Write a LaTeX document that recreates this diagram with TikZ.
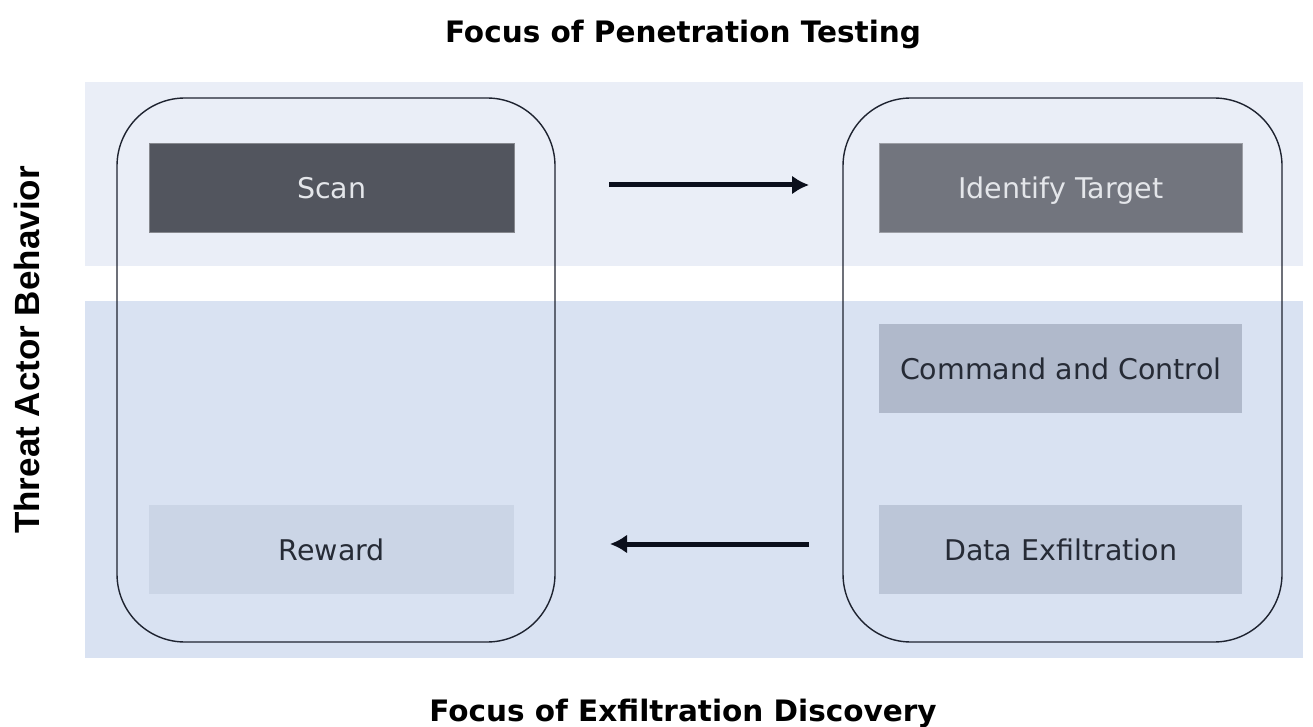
\documentclass[tikz,border=0pt]{standalone}
\usepackage{fontspec}
\setmainfont{DejaVu Sans}
\newfontfamily\arialfam{Liberation Sans}
\usetikzlibrary{arrows.meta}
\definecolor{bandtop}{HTML}{EAEEF7}
\definecolor{bandlow}{HTML}{D9E2F2}
\definecolor{scanfill}{HTML}{52555E}
\definecolor{identfill}{HTML}{72757E}
\definecolor{cmdfill}{HTML}{B0B9CB}
\definecolor{datafill}{HTML}{BCC6D8}
\definecolor{rewardfill}{HTML}{CBD5E6}
\definecolor{darktext}{HTML}{262B36}
\definecolor{lighttext}{HTML}{E4E6EA}
\definecolor{outline}{HTML}{1E2330}
\definecolor{arrowcol}{HTML}{0B0F1C}
\tikzset{
  stepbox/.style={rectangle, minimum width=365pt, minimum height=89pt, inner sep=0pt,
    text height=20.8pt, text depth=0pt,
    font=\fontsize{28.5}{34}\selectfont},
  groupbox/.style={draw=outline, line width=1.4pt, rounded corners=68pt},
  flowarrow/.style={line width=5pt, draw=arrowcol, -{Latex[length=17pt,width=19pt]}},
  titletext/.style={font=\fontsize{29.5}{34}\selectfont\bfseries},
}
\begin{document}
\begin{tikzpicture}[x=1pt,y=-1pt]
\useasboundingbox (0,0) rectangle (1313,727);
% bands
\fill[bandtop] (85,82) rectangle (1303,266);
\fill[bandlow] (85,301) rectangle (1303,658);
% group boxes
\draw[groupbox] (117,98) rectangle (555,642);
\draw[groupbox] (843,98) rectangle (1282,642);
% step boxes
\node[stepbox, fill=scanfill, draw=scanfill!70!white, line width=0.6pt, text=lighttext, anchor=north west] (scan) at (149,143) {Scan};
\node[stepbox, fill=identfill, draw=identfill!70!white, line width=0.6pt, text=lighttext, minimum width=363pt, anchor=north west] (ident) at (879,143) {Identify Target};
\node[stepbox, fill=cmdfill, text=darktext, minimum width=363pt, anchor=north west] (cmd) at (879,324) {Command and Control};
\node[stepbox, fill=datafill, text=darktext, minimum width=363pt, anchor=north west] (data) at (879,505) {Data Exfiltration};
\node[stepbox, fill=rewardfill, text=darktext, anchor=north west] (reward) at (149,505) {Reward};
% arrows
\coordinate (a1s) at (609,185);
\coordinate (a1e) at (809,185);
\coordinate (a2s) at (809,544);
\coordinate (a2e) at (610,544);
\draw[flowarrow] (a1s) -- (a1e);
\draw[flowarrow] (a2s) -- (a2e);
% titles
\node[titletext, anchor=base] (ttop) at (683,43) {Focus of Penetration Testing};
\node[titletext, anchor=base] (tbot) at (683,721) {Focus of Exfiltration Discovery};
\node[font=\arialfam\fontsize{35}{40}\selectfont\bfseries, rotate=90, anchor=base] (tside) at (39,350) {Threat Actor Behavior};
\end{tikzpicture}
\end{document}
